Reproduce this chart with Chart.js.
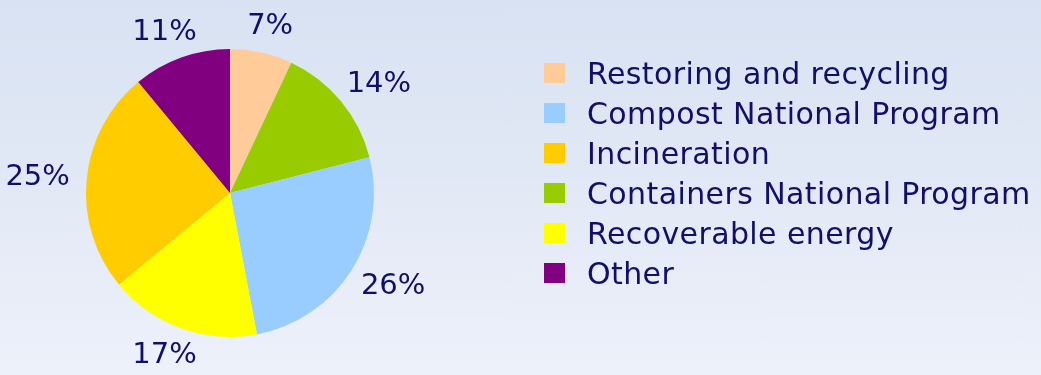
<!DOCTYPE html>
<html>
<head>
<meta charset="utf-8">
<script src="https://cdn.jsdelivr.net/npm/chart.js@4"></script>
<style>
  html, body { margin: 0; padding: 0; }
  body {
    width: 1041px; height: 375px; overflow: hidden; position: relative;
    background: linear-gradient(180deg, #d8e2f2 0%, #e1e8f5 45%, #edf1fa 100%);
    font-family: "DejaVu Sans", sans-serif;
  }
  #wrap { position: absolute; left: 0; top: 0; width: 1041px; height: 375px; }
  #legend { position: absolute; left: 544px; top: 53px; }
  .row { display: flex; align-items: center; height: 40px; }
  .box { width: 21px; height: 20px; margin-right: 22px; }
  .lbl { font-size: 30px; letter-spacing: 0.4px; color: #10106a; white-space: nowrap; }
</style>
</head>
<body>
<div id="wrap"><canvas id="pie"></canvas></div>
<div id="legend"></div>
<script>
// pie slices, clockwise from 12 o'clock
const categories = ['Restoring and recycling', 'Containers National Program', 'Compost National Program',
                    'Recoverable energy', 'Incineration', 'Other'];
const shares = [7, 14, 26, 17, 25, 11];
const colors = ['#ffcc99', '#99cc00', '#99ccff', '#ffff00', '#ffcc00', '#800080'];
const legendOrder = ['Restoring and recycling', 'Compost National Program', 'Incineration',
                     'Containers National Program', 'Recoverable energy', 'Other'];

const labelColor = '#10106a';

// percentage labels just outside each slice
const outsideLabels = {
  id: 'outsideLabels',
  afterDatasetsDraw(chart) {
    const ctx = chart.ctx;
    const meta = chart.getDatasetMeta(0);
    const total = shares.reduce((a, b) => a + b, 0);
    ctx.save();
    ctx.font = '29px "DejaVu Sans"';
    ctx.fillStyle = labelColor;
    ctx.textAlign = 'center';
    ctx.textBaseline = 'middle';
    meta.data.forEach((arc, i) => {
      const mid = (arc.startAngle + arc.endAngle) / 2;
      const ux = Math.cos(mid), uy = Math.sin(mid);
      const txt = Math.round(shares[i] / total * 100) + '%';
      const w = ctx.measureText(txt).width;
      const h = 22;
      const r = arc.outerRadius + 17;
      const x = arc.x + ux * r + ux * w / 2;
      const y = arc.y + uy * r + uy * h / 2;
      ctx.fillText(txt, x, y + 1);
    });
    ctx.restore();
  }
};

const chart = new Chart(document.getElementById('pie'), {
  type: 'pie',
  data: {
    labels: categories,
    datasets: [{
      data: shares,
      backgroundColor: colors,
      borderWidth: 0
    }]
  },
  options: {
    responsive: true,
    maintainAspectRatio: false,
    animation: false,
    layout: { padding: { left: 86, right: 667, top: 49, bottom: 38 } },
    plugins: {
      legend: { display: false },
      tooltip: { enabled: false }
    }
  },
  plugins: [outsideLabels]
});

// html legend in the original order
const legendEl = document.getElementById('legend');
legendOrder.forEach(name => {
  const i = categories.indexOf(name);
  const row = document.createElement('div');
  row.className = 'row';
  row.innerHTML = `<div class="box" style="background:${colors[i]}"></div><span class="lbl">${name}</span>`;
  legendEl.appendChild(row);
});
</script>
</body>
</html>
